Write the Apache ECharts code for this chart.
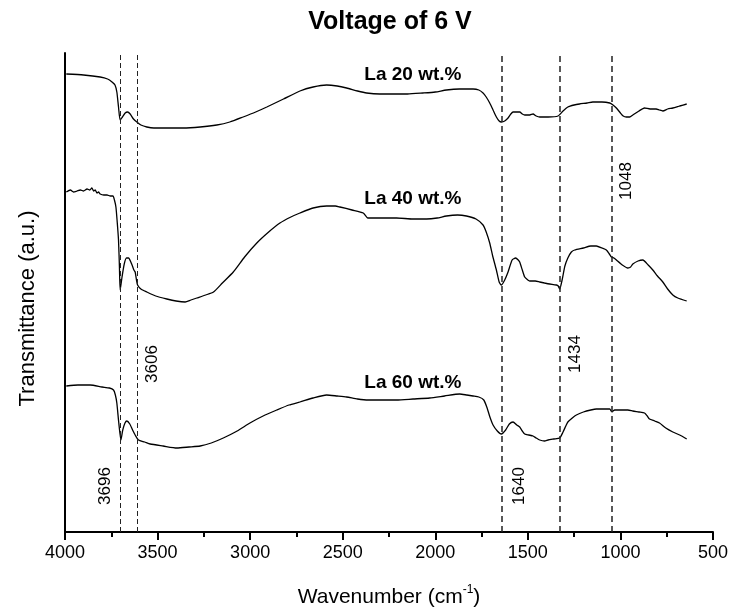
<!DOCTYPE html>
<html>
<head>
<meta charset="utf-8">
<script src="https://cdn.jsdelivr.net/npm/echarts@6/dist/echarts.min.js"></script>
<style>html,body{margin:0;padding:0;background:#fff}#c{width:734px;height:615px}</style>
</head>
<body>
<div id="c"></div>
<script>
// ---- data (wavenumber cm^-1, transmittance a.u., curves offset vertically) ----
const seriesNames = ['La 20 wt.%', 'La 40 wt.%', 'La 60 wt.%'];

const la20 = [
  [3993,458],[3900,457],[3810,455],[3770,453],[3746,450],[3730,447],[3720,440],[3711,425],[3702,412],
  [3690,415],[3675,419],[3662,420],[3648,418],[3630,413],[3612,410],[3590,407],[3558,405],[3520,404],
  [3486,404],[3420,404],[3362,404],[3270,405],[3180,407],[3110,410],[3038,415],[2970,420],[2910,425],
  [2820,433],[2731,441],[2660,445],[2587,447],[2530,446],[2479,444],[2420,441],[2371,439],[2300,438],
  [2245,438],[2150,438],[2066,439],[2000,440],[1940,442],[1870,443],[1796,443],[1765,442],[1742,439],
  [1725,435],[1706,429],[1688,422],[1670,415],[1655,411],[1643,410],[1625,411],[1607,414],[1592,418],
  [1580,420],[1560,420],[1544,420],[1530,418],[1517,417],[1490,417],[1472,418],[1455,416],[1436,415],
  [1390,415],[1337,416],[1310,421],[1284,425],[1250,427],[1221,428],[1180,429],[1149,430],[1100,430],
  [1058,429],[1040,427],[1022,424],[1000,419],[985,416],[968,415],[950,415],[933,417],[900,421],
  [870,424],[840,423],[807,423],[790,422],[771,421],[745,423],[717,424],[680,426],[642,428]
];

const la40 = [
  [3993,340],[3971,342],[3954,340],[3935,341],[3917,342],[3900,341],[3881,343],[3866,342],[3855,344],
  [3845,341],[3837,342],[3827,339],[3819,340],[3810,338],[3790,337],[3773,337],[3755,336],[3741,336],
  [3733,332],[3725,325],[3718,310],[3711,292],[3706,265],[3702,242],[3692,255],[3680,268],[3668,274],
  [3657,274],[3640,268],[3628,262],[3621,260],[3614,252],[3608,247],[3590,243],[3558,240],[3510,236],
  [3450,233],[3400,231],[3351,230],[3320,232],[3288,234],[3240,237],[3198,240],[3150,249],[3091,260],
  [3030,275],[2964,289],[2900,300],[2839,309],[2780,315],[2731,319],[2660,324],[2587,326],[2540,326],
  [2515,325],[2450,322],[2389,319],[2365,314],[2353,314],[2280,314],[2209,314],[2120,313],[2047,313],
  [1990,314],[1940,316],[1880,317],[1832,316],[1780,313],[1742,307],[1725,300],[1706,289],[1690,276],
  [1670,262],[1655,250],[1643,247],[1625,252],[1607,260],[1585,272],[1566,274],[1552,272],[1544,270],
  [1530,262],[1517,255],[1500,252],[1490,251],[1460,251],[1436,250],[1410,249],[1382,248],[1346,247],
  [1336,246],[1328,243],[1315,252],[1300,266],[1284,274],[1265,280],[1247,282],[1200,284],[1160,286],
  [1130,286],[1100,284],[1076,282],[1060,278],[1049,275],[1035,274],[1022,272],[990,267],[960,264],
  [945,265],[933,268],[905,271],[879,272],[850,267],[825,262],[800,256],[771,250],[745,243],[717,237],
  [690,234],[642,231]
];

const la60 = [
  [3993,146],[3930,147],[3864,147],[3800,145],[3760,144],[3738,142],[3728,137],[3720,129],[3710,110],
  [3698,92],[3688,102],[3676,109],[3666,111],[3650,108],[3635,102],[3621,97],[3603,92],[3570,90],
  [3540,88],[3470,86],[3396,84],[3330,85],[3270,86],[3210,89],[3145,94],[3070,101],[3001,109],
  [2930,116],[2856,122],[2790,127],[2731,130],[2660,134],[2587,137],[2530,136],[2479,135],[2420,133],
  [2362,132],[2290,132],[2209,132],[2120,133],[2030,134],[1950,136],[1868,138],[1830,137],[1796,136],
  [1765,135],[1738,132],[1720,124],[1705,115],[1688,107],[1665,101],[1643,98],[1620,102],[1600,108],
  [1580,110],[1560,107],[1544,105],[1530,101],[1517,98],[1495,97],[1472,96],[1455,94],[1436,92],
  [1410,91],[1391,92],[1360,93],[1328,94],[1310,100],[1295,106],[1284,110],[1260,114],[1238,117],
  [1200,120],[1160,122],[1130,123],[1090,123],[1058,123],[1050,121],[1045,120],[1040,121],[1031,122],
  [990,122],[960,122],[933,121],[900,120],[870,119],[855,116],[843,113],[815,111],[789,109],[755,104],
  [717,100],[680,97],[642,93]
];

const peakPositions = [3700, 3610, 1642, 1330, 1048];
const peakLabels = ['3696', '3606', '1640', '1434', '1048'];
const xTickMin = 500, xTickMax = 4000, xTickStep = 500;

// ---- layout / style (not data) ----
const FONT = 'Arial, "Liberation Sans", sans-serif';
const peakLabelAnchors = [[3783,46],[3529,168],[1544,46],[1242,178],[967,351]];
const seriesLabelAnchors = [[2121,457],[2121,333],[2121,149]];
const peakLineStyles = [
  {width:1, type:[5,3]}, {width:1, type:[5,3]},
  {width:1.5, type:[6,4]}, {width:1.5, type:[6,4]}, {width:1.5, type:[6,4]}
];

const chart = echarts.init(document.getElementById('c'), null, {renderer:'canvas'});

const allSeries = [la20, la40, la60].map((d, i) => ({
  name: seriesNames[i],
  type: 'line',
  data: d,
  showSymbol: false,
  symbol: 'none',
  smooth: 0.2,
  lineStyle: {color:'#000', width:1.3},
  silent: true,
  z: 3
}));
allSeries[0].markLine = {
  silent: true,
  symbol: 'none',
  label: {show:false},
  data: peakPositions.map((v, i) => ({
    xAxis: v,
    lineStyle: Object.assign({color:'#222'}, peakLineStyles[i])
  }))
};

chart.setOption({
  animation: false,
  backgroundColor: '#fff',
  title: {
    text: 'Voltage of 6 V',
    left: 385, top: 5, textAlign: 'center',
    textStyle: {fontFamily: FONT, fontSize: 25, fontWeight: 'bold', color:'#000'}
  },
  grid: {left: 65, right: 21, top: 53, bottom: 83, containLabel: false},
  xAxis: {
    type: 'value',
    inverse: true,
    min: xTickMin, max: xTickMax, interval: xTickStep,
    name: 'Wavenumber (cm{sup|-1})',
    nameLocation: 'middle',
    nameGap: 52,
    nameTextStyle: {
      fontFamily: FONT, fontSize: 21, color:'#000', lineHeight: 26,
      rich: {sup: {fontFamily: FONT, fontSize: 12, verticalAlign: 'top', lineHeight: 14, color:'#000'}}
    },
    axisLine: {show: true, onZero: false, lineStyle: {color:'#000', width: 2}},
    axisTick: {show: true, inside: false, length: 8, lineStyle: {color:'#000', width: 2}},
    minorTick: {show: true, splitNumber: 2, length: 5, lineStyle: {color:'#000', width: 2}},
    axisLabel: {fontFamily: FONT, fontSize: 18, color:'#000', margin: 12, formatter: v => String(v)},
    splitLine: {show: false}
  },
  yAxis: {
    type: 'value',
    min: 0, max: 479,
    name: 'Transmittance (a.u.)',
    nameLocation: 'middle',
    nameGap: 26,
    nameTextStyle: {fontFamily: FONT, fontSize: 22, color:'#000', padding: [0, 32, 0, 0]},
    axisLine: {show: true, onZero: false, lineStyle: {color:'#000', width: 2}},
    axisTick: {show: false},
    axisLabel: {show: false},
    splitLine: {show: false}
  },
  series: allSeries
});

function place() {
  const g = [];
  peakLabels.forEach((t, i) => {
    const p = chart.convertToPixel({xAxisIndex:0, yAxisIndex:0}, peakLabelAnchors[i]);
    g.push({
      type: 'text', x: p[0], y: p[1], rotation: Math.PI/2, silent: true,
      style: {text: t, fontFamily: FONT, fontSize: 17, fill:'#000', align:'center', verticalAlign:'middle'}
    });
  });
  seriesNames.forEach((t, i) => {
    const p = chart.convertToPixel({xAxisIndex:0, yAxisIndex:0}, seriesLabelAnchors[i]);
    g.push({
      type: 'text', x: p[0], y: p[1], silent: true,
      style: {text: t, fontFamily: FONT, fontSize: 19, fontWeight:'bold', fill:'#000', align:'center', verticalAlign:'middle'}
    });
  });
  chart.setOption({graphic: g});
}
place();
</script>
</body>
</html>
